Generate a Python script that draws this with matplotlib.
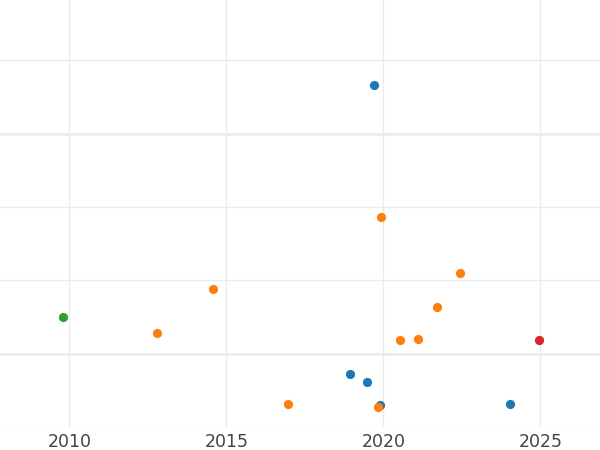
import matplotlib
matplotlib.use("Agg")
import matplotlib.pyplot as plt
from matplotlib.ticker import MultipleLocator

# points, grouped by colour
blue_x = [2019.71, 2018.95, 2019.47, 2019.90, 2024.04]
blue_y = [3.66, -0.28, -0.38, -0.70, -0.68]

orange_x = [2019.92, 2022.45, 2014.57, 2021.71, 2012.78, 2020.52, 2021.10, 2016.97, 2019.82]
orange_y = [1.86, 1.10, 0.88, 0.64, 0.28, 0.18, 0.20, -0.69, -0.72]

green_x = [2009.79]
green_y = [0.50]

red_x = [2024.97]
red_y = [0.18]

fig = plt.figure(figsize=(6, 4.5), dpi=100)
ax = fig.add_axes([0, 0.051, 1, 0.949])

ax.scatter(blue_x, blue_y, s=44, color="#1f77b4", linewidths=0, zorder=3)
ax.scatter(orange_x, orange_y, s=44, color="#ff7f0e", linewidths=0, zorder=3)
ax.scatter(green_x, green_y, s=44, color="#2ca02c", linewidths=0, zorder=3)
ax.scatter(red_x, red_y, s=44, color="#d62728", linewidths=0, zorder=3)

ax.set_xlim(2007.79, 2026.9)
ax.set_ylim(-1.0, 4.82)

ax.xaxis.set_major_locator(MultipleLocator(5))
ax.yaxis.set_major_locator(MultipleLocator(3))
ax.yaxis.set_minor_locator(MultipleLocator(1))

ax.grid(True, axis="x", which="major", color="#ebebeb", linewidth=1)
ax.grid(True, axis="y", which="major", color="#ebebeb", linewidth=2)
ax.grid(True, axis="y", which="minor", color="#ebebeb", linewidth=1)
ax.set_axisbelow(True)

for s in ax.spines.values():
    s.set_visible(False)

ax.tick_params(axis="both", which="both", length=0)
ax.tick_params(axis="x", labelsize=12.5, labelcolor="#444444", pad=4)
ax.set_yticklabels([])

fig.savefig("out.png", dpi=100)
